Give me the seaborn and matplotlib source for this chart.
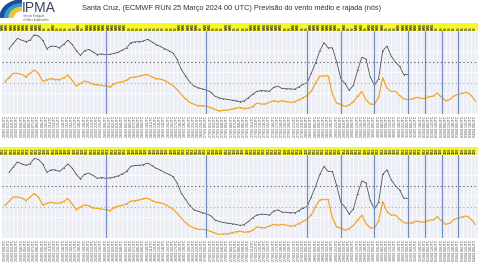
import numpy as np
import pandas as pd
import matplotlib
matplotlib.use("Agg")
import matplotlib.pyplot as plt
import seaborn as sns
from matplotlib.patches import Wedge

# ---------------- data ----------------
title = "Santa Cruz, (ECMWF RUN 25 Março 2024 00 UTC) Previsão do vento médio e rajada (nós)"
run_start = "2024-03-25 00:00"
steps_hourly = list(range(0, 72))
steps_3h = list(range(72, 144, 3))
steps_6h = list(range(144, 241, 6))

nan = np.nan
gust = [nan, 31.5, 34.0, 36.5, 35.6, 34.9, 35.6, 38.2, 37.7, 35.6,
        31.5, 32.7, 32.7, 31.9, 33.6, 35.6, 33.6, 30.6, 28.3, 30.6,
        31.1, 30.0, 28.6, 29.0, 28.6, 28.8, 29.2, 29.8, 30.8, 31.9,
        34.4, 34.8, 34.9, 35.2, 36.0, 34.8, 33.5, 32.6, 31.5, 30.6,
        29.5, 26.5, 21.5, 18.5, 15.5, 13.5, 12.7, 12.1, 11.5, 10.6,
        8.6, 7.8, 7.3, 7.0, 6.7, 6.4, 5.9, 6.3, 7.8, 9.5,
        10.9, 11.3, 11.2, 10.9, 12.8, 13.4, 12.3, 12.2, 12.1, 11.9,
        13.0, 14.3, 15.0, 19.8, 24.7, 30.5, 34.4, 31.9, 31.9, 25.3,
        17.0, 14.7, 11.4, 13.8, 21.0, 27.3, 26.5, 18.0, 13.8, 17.0,
        30.6, 32.7, 28.0, 25.0, 23.0, 19.0, 19.0] + [nan] * 16

mean = [15.5, 17.5, 19.6, 19.6, 19.1, 17.9, 19.6, 21.2, 19.6, 15.8,
        16.5, 17.1, 16.6, 16.6, 17.4, 18.8, 16.3, 13.5, 14.7, 15.8,
        15.4, 14.3, 14.1, 13.8, 13.5, 13.0, 14.5, 15.2, 15.5, 16.3,
        17.6, 17.8, 18.2, 18.8, 19.0, 17.9, 17.1, 16.8, 16.2, 15.0,
        13.8, 11.8, 9.5, 7.3, 5.6, 4.7, 4.0, 4.0, 3.8, 3.0,
        2.2, 1.5, 1.8, 1.8, 2.3, 2.8, 3.1, 2.6, 2.8, 3.5,
        5.2, 4.8, 4.8, 5.6, 6.4, 5.9, 6.4, 6.0, 5.6, 5.8,
        6.8, 7.8, 8.9, 11.0, 15.0, 18.2, 18.4, 18.4, 9.5, 5.3,
        4.6, 3.6, 4.3, 5.9, 8.5, 10.8, 6.8, 4.8, 4.6, 8.0,
        17.4, 12.5, 10.9, 10.9, 8.9, 7.3, 6.9, 7.2, 8.0, 7.6,
        7.4, 8.3, 8.6, 10.1, 8.0, 6.4, 7.0, 8.8, 9.5, 10.0,
        10.4, 9.0, 6.4]

directions = (["NNE"] * 10 + ["N"] * 2 + ["NNE"] + ["N"] * 5 + ["NNE"] + ["N"]
              + ["NNE"] * 10 + ["N"] * 12 + ["NNE"] * 5 + ["N"] + ["NNE"] * 2
              + ["N"] * 3 + ["NNE"] * 2 + ["N"] * 4 + ["NNE"] * 8 + ["N"] * 2
              + ["NNE"] * 2 + ["N"] * 2 + ["NNE"] * 7 + ["N"] + ["NNE"] + ["N"] * 2
              + ["NNE"] * 2 + ["N"] + ["NNE"] * 4 + ["N"] * 3 + ["NNE"] * 9 + ["N"] * 10)
dir_degrees = {"N": "360", "NNE": "022"}

gust_threshold = 25
mean_threshold = 15

# ---------------- build ----------------
steps = steps_hourly + steps_3h + steps_6h
times = pd.Timestamp(run_start) + pd.to_timedelta(steps, unit="h")
cats = np.arange(len(steps))
labels = [t.strftime("%d/%m %HUTC") for t in times]
day_lines = [c for c, t in zip(cats, times) if t.hour == 0 and 0 < c < len(cats) - 1]
df = pd.DataFrame({"cat": cats, "gust": gust, "mean": mean})

sns.set_style("darkgrid", {"axes.facecolor": "#eceef6", "grid.color": "white"})
plt.rcParams["font.family"] = ["Liberation Sans", "DejaVu Sans"]

fig = plt.figure(figsize=(4.8, 2.7), dpi=100)
fig.patch.set_facecolor("white")

# logo
lax = fig.add_axes([0.0, 0.935, 0.045, 0.065])
lax.set_xlim(0, 1); lax.set_ylim(0, 1); lax.axis("off")
for r, w, c in [(1.0, 0.2, "#1d4f91"), (0.78, 0.18, "#2f9ad6"), (0.58, 0.18, "#f2c230")]:
    lax.add_patch(Wedge((1.0, 0.0), r, 90, 180, width=w, color=c))
fig.text(0.046, 0.97, "IPMA", fontsize=10, color="#34445f", va="center", ha="left")
fig.text(0.048, 0.948, "Instituto Português\ndo Mar e da Atmosfera", fontsize=1.8,
         color="#555", va="top", ha="left", linespacing=1.05)
fig.text(0.482, 0.97, title, fontsize=5.3, color="#333", ha="center", va="center")

xlim = (-0.7, len(cats) - 0.3)

def strip(bottom, texts, color, fs):
    sax = fig.add_axes([0.0, bottom, 0.996, 0.03])
    sax.set_facecolor("#f7f72a")
    sax.set_xlim(xlim); sax.set_ylim(0, 1)
    sax.set_xticks([]); sax.set_yticks([])
    sax.grid(False)
    for s in sax.spines.values():
        s.set_visible(False)
    for c, t in zip(cats, texts):
        sax.text(c, 0.08, t, rotation=90, fontsize=fs, color=color,
                 ha="center", va="bottom", fontweight="bold")

def panel(bottom):
    ax = fig.add_axes([0.004, bottom, 0.992, 0.307])
    ax.set_xlim(xlim)
    ax.set_ylim(0, 40)
    sns.lineplot(data=df, x="cat", y="gust", ax=ax, color="#555555", lw=0.6,
                 marker="o", markersize=0.8, markeredgewidth=0)
    sns.lineplot(data=df, x="cat", y="mean", ax=ax, color="#f5a623", lw=0.9,
                 marker="o", markersize=0.8, markeredgewidth=0)
    ax.axhline(gust_threshold, color="#555", lw=0.8, ls=(0, (1, 2.4)))
    ax.axhline(mean_threshold, color="#f0a020", lw=0.8, ls=(0, (1, 2.4)))
    for d in day_lines:
        ax.axvline(d, color="#7189b8", lw=0.8)
    ax.set_xticks(cats)
    ax.set_xticklabels(labels, rotation=90, fontsize=2.6, color="#4a4a4a")
    ax.tick_params(axis="x", length=0, pad=1.5)
    ax.set_yticks([0, 10, 20, 30, 40])
    ax.set_yticklabels([])
    ax.tick_params(axis="y", length=0)
    ax.grid(True, color="white", lw=0.5)
    ax.set_xlabel(""); ax.set_ylabel("")
    for s in ax.spines.values():
        s.set_visible(False)
    return ax

strip(0.885, directions, "#3a3a3a", 2.4)
panel(0.578)
strip(0.426, [dir_degrees[d] for d in directions], "#444", 2.7)
panel(0.12)

fig.savefig("out.png", dpi=100)
